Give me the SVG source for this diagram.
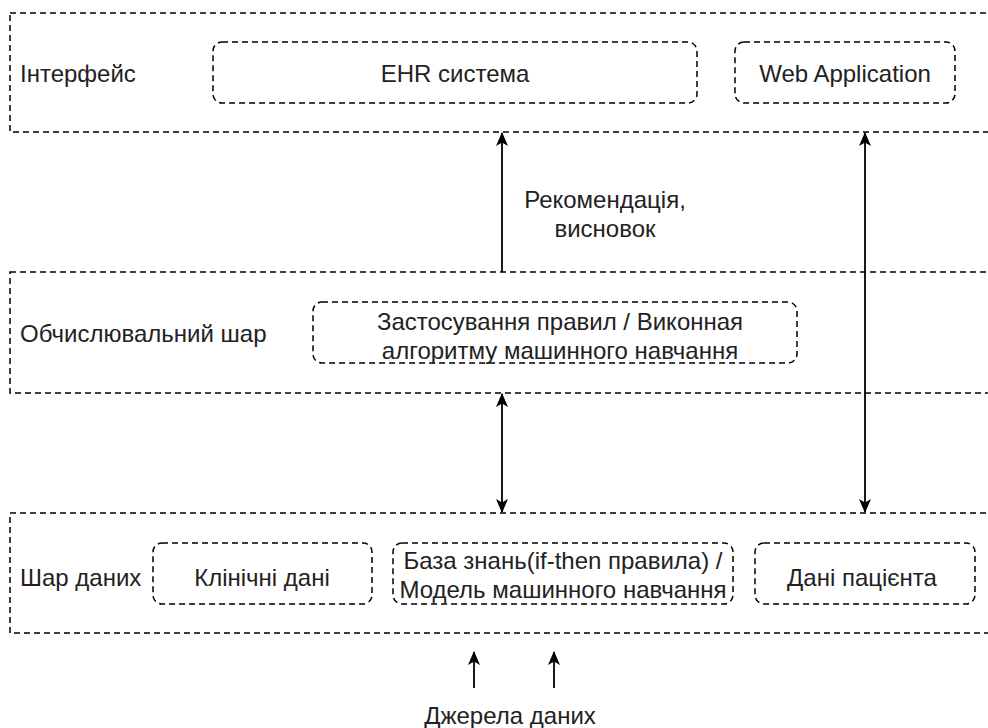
<svg xmlns="http://www.w3.org/2000/svg" width="988" height="728" viewBox="0 0 988 728">
  <style>
    .layer { fill: #ffffff; stroke: #000000; stroke-width: 1.5; stroke-dasharray: 6 4; }
    .box { fill: #ffffff; stroke: #000000; stroke-width: 1.5; stroke-dasharray: 6 4; }
    .lbl { font-family: "Liberation Sans", Arial, sans-serif; font-size: 24px; fill: #222222; }
    .mid { text-anchor: middle; }
    .conn { stroke: #000000; stroke-width: 1.8; fill: none; }
  </style>
  <defs>
    <marker id="arrow" viewBox="0 0 14 14" refX="13" refY="7" markerWidth="14" markerHeight="14" markerUnits="userSpaceOnUse" orient="auto-start-reverse">
      <path d="M0,1 L14,7 L0,13 L3.5,7 Z" fill="#000000"/>
    </marker>
  </defs>
  <rect width="988" height="728" fill="#ffffff"/>

  <!-- Interface layer -->
  <g id="layer-interface">
    <rect class="layer" x="10" y="13" width="990" height="119"/>
    <text class="lbl" x="20" y="82">Інтерфейс</text>
  </g>
  <g id="node-ehr">
    <rect class="box" x="213" y="42" width="484" height="61" rx="9"/>
    <text class="lbl mid" x="455" y="82">EHR система</text>
  </g>
  <g id="node-webapp">
    <rect class="box" x="735" y="42" width="220" height="61" rx="9"/>
    <text class="lbl mid" x="845" y="82">Web Application</text>
  </g>

  <!-- Computation layer -->
  <g id="layer-compute">
    <rect class="layer" x="10" y="272" width="990" height="121"/>
    <text class="lbl" x="20" y="342">Обчислювальний шар</text>
  </g>
  <g id="node-rules">
    <rect class="box" x="313" y="302" width="484" height="61" rx="9"/>
    <text class="lbl mid" x="560" y="330">Застосування правил / Виконная</text>
    <text class="lbl mid" x="560" y="359">алгоритму машинного навчання</text>
  </g>

  <!-- Data layer -->
  <g id="layer-data">
    <rect class="layer" x="10" y="513" width="990" height="120"/>
    <text class="lbl" x="20" y="586">Шар даних</text>
  </g>
  <g id="node-clinical">
    <rect class="box" x="153" y="543" width="219" height="61" rx="9"/>
    <text class="lbl mid" x="262" y="586">Клінічні дані</text>
  </g>
  <g id="node-knowledge">
    <rect class="box" x="393" y="543" width="340" height="61" rx="9"/>
    <text class="lbl mid" x="563" y="569">База знань(if-then правила) /</text>
    <text class="lbl mid" x="563" y="598">Модель машинного навчання</text>
  </g>
  <g id="node-patient">
    <rect class="box" x="755" y="543" width="220" height="61" rx="9"/>
    <text class="lbl mid" x="862" y="586">Дані пацієнта</text>
  </g>

  <!-- Connectors -->
  <g id="connectors">
    <line class="conn" x1="502" y1="272" x2="502" y2="133" marker-end="url(#arrow)"/>
    <line class="conn" x1="502" y1="394" x2="502" y2="512" marker-start="url(#arrow)" marker-end="url(#arrow)"/>
    <line class="conn" x1="865" y1="133" x2="865" y2="512" marker-start="url(#arrow)" marker-end="url(#arrow)"/>
    <line class="conn" x1="474" y1="688" x2="474" y2="652" marker-end="url(#arrow)"/>
    <line class="conn" x1="554" y1="688" x2="554" y2="652" marker-end="url(#arrow)"/>
  </g>

  <g id="label-recommendation">
    <text class="lbl mid" x="605" y="208">Рекомендація,</text>
    <text class="lbl mid" x="605" y="237">висновок</text>
  </g>
  <g id="label-sources">
    <text class="lbl mid" x="510" y="724">Джерела даних</text>
  </g>
</svg>
